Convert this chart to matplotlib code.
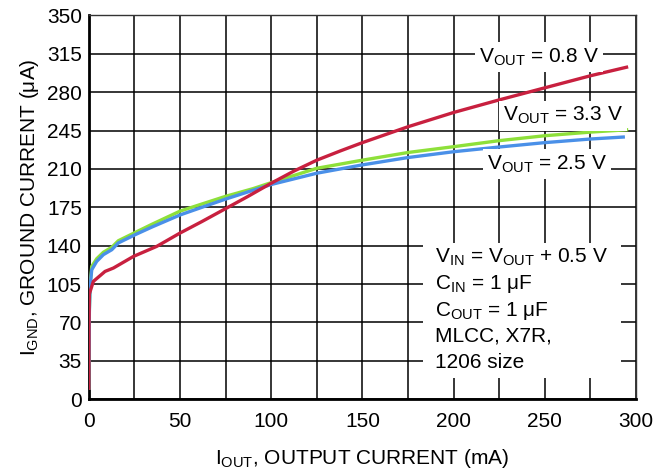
import matplotlib.pyplot as plt
from matplotlib.patches import Rectangle

plt.rcParams['font.family'] = ['Liberation Sans', 'DejaVu Sans']
plt.rcParams['mathtext.fontset'] = 'custom'
plt.rcParams['mathtext.rm'] = 'Liberation Sans'
plt.rcParams['mathtext.it'] = 'Liberation Sans'
plt.rcParams['mathtext.bf'] = 'Liberation Sans'

# I_OUT (mA) vs I_GND (uA)
x_08 = [0, 0.1, 0.3, 2.5, 8.9, 13.5, 24.5, 37.3, 50, 62, 75, 87, 100, 112.4, 125, 138, 150,
        175, 200, 225, 250, 275, 294.8]
y_08 = [10, 65, 96, 107.4, 116.5, 119.6, 130.2, 139.4, 151.5, 162, 173.8, 184.7, 197, 208, 218, 226.5, 234,
        248.5, 261.5, 273, 284, 295, 302.8]

x_25 = [0, 0.3, 0.7, 1.6, 4.3, 8, 12.6, 16.2, 25.4, 34.6, 50, 62, 75, 90, 100, 125,
        150, 175, 200, 225, 250, 275, 293]
y_25 = [10, 80, 102, 118, 125.6, 131.8, 136.3, 142.5, 150, 157, 168, 175, 182.5, 190.5, 195.8, 206.1,
        213.7, 220.4, 225.7, 230, 234, 237.3, 239.1]

x_33 = [0, 0.3, 0.7, 1.6, 4.3, 8, 12.6, 16.2, 25.4, 34.6, 50, 62, 75, 90, 100, 125,
        150, 175, 200, 225, 250, 275, 294.8]
y_33 = [10, 82, 105, 121, 128, 134, 138.5, 144.5, 152, 159.5, 171.5, 178, 185, 192, 197.5, 210.6,
        218, 225, 230.3, 235.8, 240.3, 243.6, 245.7]

xticks = [0, 50, 100, 150, 200, 250, 300]
yticks = [0, 35, 70, 105, 140, 175, 210, 245, 280, 315, 350]

fig = plt.figure(figsize=(6.53, 4.69), dpi=100)
ax = fig.add_axes([0.136, 0.149, 0.838, 0.818])

ax.plot(x_33, y_33, color='#8ee03a', lw=2.4, zorder=3)
ax.plot(x_25, y_25, color='#4a90e8', lw=2.4, zorder=4)
ax.plot(x_08, y_08, color='#c8203f', lw=2.4, zorder=5)

ax.set_xlim(0, 300)
ax.set_ylim(0, 350)
ax.set_xticks(xticks)
ax.set_yticks(yticks)
ax.set_xticks(range(0, 301, 25), minor=True)
ax.grid(True, which='both', color='black', lw=1.1)
ax.tick_params(which='both', length=0, labelsize=15)
ax.tick_params(axis='x', pad=9)
ax.tick_params(axis='y', pad=5)
ax.set_axisbelow(True)
for s in ['left', 'bottom']:
    ax.spines[s].set_linewidth(2)
for s in ['top', 'right']:
    ax.spines[s].set_linewidth(1)
    ax.spines[s].set_color('#333333')

ax.set_xlabel(r'I$_{\mathrm{OUT}}$, OUTPUT CURRENT (mA)', fontsize=15, labelpad=12)
ax.set_ylabel(r'I$_{\mathrm{GND}}$, GROUND CURRENT (μA)', fontsize=15, labelpad=4)

box = dict(facecolor='white', edgecolor='none', pad=3)
ax.text(247, 307, r'V$_{\mathrm{OUT}}$ = 0.8 V', fontsize=15, ha='center', va='baseline', bbox=box, zorder=6)
ax.text(260, 253.6, r'V$_{\mathrm{OUT}}$ = 3.3 V', fontsize=15, ha='center', va='baseline', bbox=box, zorder=6)
ax.text(251.3, 209.5, r'V$_{\mathrm{OUT}}$ = 2.5 V', fontsize=15, ha='center', va='baseline', bbox=box, zorder=6)

ax.add_patch(Rectangle((183, 19), 109, 123, facecolor='white', edgecolor='none', zorder=2))
notes = [r'V$_{\mathrm{IN}}$ = V$_{\mathrm{OUT}}$ + 0.5 V',
         r'C$_{\mathrm{IN}}$ = 1 μF',
         r'C$_{\mathrm{OUT}}$ = 1 μF',
         'MLCC, X7R,',
         '1206 size']
for i, t in enumerate(notes):
    ax.text(190, 124.2 - i * 24, t, fontsize=15, ha='left', va='baseline', zorder=6)

fig.savefig('out.png', dpi=100)
